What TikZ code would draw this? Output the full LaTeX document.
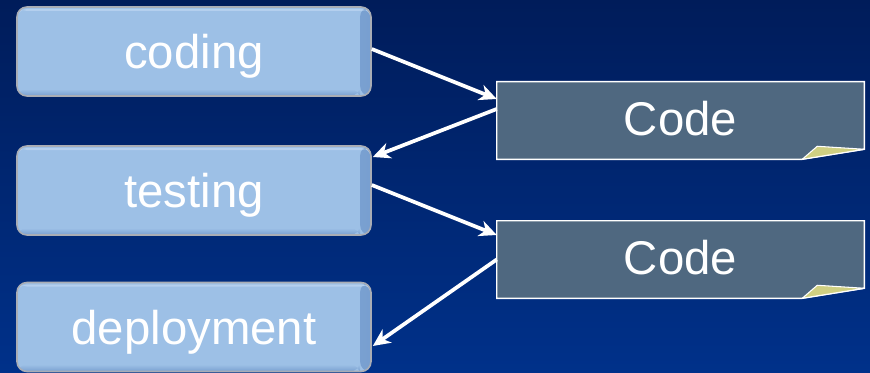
\documentclass[tikz,border=0pt]{standalone}
\usepackage{fontspec}
\setmainfont{Liberation Sans}
\usetikzlibrary{arrows.meta,calc,backgrounds}

\definecolor{bgtop}{HTML}{001C5A}
\definecolor{bgbot}{HTML}{00318A}
\definecolor{stepfill}{HTML}{9DC0E6}
\definecolor{stepedge}{HTML}{A9ADB5}
\definecolor{stepdark}{HTML}{789FD0}
\definecolor{stephi}{HTML}{B4CFEE}
\definecolor{notefill}{HTML}{4F6880}
\definecolor{foldfill}{HTML}{CFCF82}

\begin{document}
\begin{tikzpicture}[x=0.75pt,y=0.75pt,
  label font/.style={font=\fontsize{35.5}{42}\selectfont, text=white},
  stepbox/.style={rectangle, rounded corners=7.5pt, fill=stepfill,
    draw=stepedge, line width=1.2pt, inner sep=0pt,
    minimum width=265.5pt, minimum height=66.75pt,
    label font, text height=27pt, text depth=1.5pt,
    path picture={
      \shade[left color=stepfill, right color=stepdark]
        ($(path picture bounding box.north east)+(-11,0)$) rectangle
        (path picture bounding box.south east);
      \shade[top color=stepfill, bottom color=stepdark]
        ($(path picture bounding box.south west)+(0,7)$) rectangle
        ($(path picture bounding box.south east)+(-11,0)$);
      \fill[stephi]
        ($(path picture bounding box.north west)+(0,-2)$) rectangle
        ($(path picture bounding box.north east)+(0,-4)$);
    }},
  notebox/.style={rectangle, inner sep=0pt,
    minimum width=275.25pt, minimum height=57.75pt,
    label font, text height=24pt, text depth=2pt},
  noteshape/.style={fill=notefill, draw=white, line width=1.1pt},
  foldshape/.style={fill=foldfill, draw=white, line width=0.8pt, line join=round},
  flow/.style={draw=white, line width=2.8pt,
    -{Stealth[length=13pt, width=12pt, inset=4pt]}}
]
\useasboundingbox (0,0) rectangle (870,372);

% process steps
\node[stepbox] (coding)     at (194,320.5) {coding};
\node[stepbox] (testing)    at (194,181.5) {testing};
\node[stepbox] (deployment) at (194,45)    {deployment};

% artefact notes
\node[notebox] (code1) at (680.5,251.5) {Code};
\node[notebox] (code2) at (680.5,112.5) {Code};

\begin{scope}[on background layer]
  \shade[top color=bgtop, bottom color=bgbot] (0,0) rectangle (870,372);
  \foreach \n in {code1,code2}{
    \path[noteshape] (\n.north west) -- (\n.north east)
      -- ($(\n.south east)+(0,10)$) -- ($(\n.south east)+(-62,0)$)
      -- (\n.south west) -- cycle;
  }
\end{scope}

% turned-up corners
\foreach \n in {code1,code2}{
  \path[foldshape] ($(\n.south east)+(-62,0)$) -- ($(\n.south east)+(-47,13)$)
    -- ($(\n.south east)+(0,10)$) -- cycle;
}

% hand-offs between steps and artefacts
\draw[flow] ($(coding.east)+(0,2.5)$) -- ($(code1.west)+(0,21.5)$);
\draw[flow] ($(code1.west)+(0,11.5)$) -- ($(testing.east)+(1,33.5)$);
\draw[flow] ($(testing.east)+(0,5.5)$) -- ($(code2.west)+(0,24.5)$);
\draw[flow] ($(code2.west)+(0,0)$) -- ($(deployment.east)+(1,-19)$);
\end{tikzpicture}
\end{document}
